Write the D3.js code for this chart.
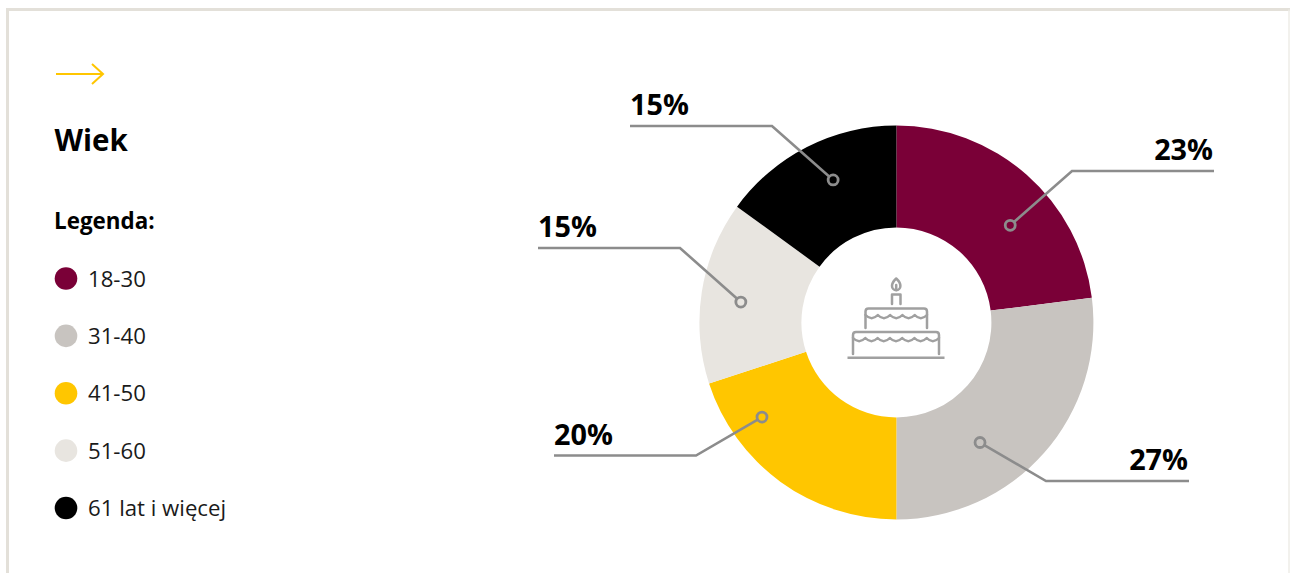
<!DOCTYPE html>
<html lang="pl">
<head>
<meta charset="utf-8">
<script src="https://cdn.jsdelivr.net/npm/d3@7"></script>
<style>
  html, body { margin: 0; padding: 0; background: #fff; overflow: hidden; }
  svg { display: block; font-family: "Open Sans", sans-serif; }
</style>
</head>
<body>
<svg id="chart" width="1290" height="573"></svg>
<script>
// Age structure of respondents
const ageGroups = ["18-30", "31-40", "41-50", "51-60", "61 lat i więcej"];
const shares = [23, 27, 20, 15, 15];
const sliceColors = ["#7a0037", "#c8c4c0", "#ffc600", "#e8e5e0", "#000000"];

// Callout geometry, one entry per slice: anchor dot in polar form around
// the ring centre (degrees clockwise from north, radius), elbow, line end.
const calloutAngles = [49.6, 145, 234.8, 277.5, 336.2];
const calloutRadii = [150, 146.5, 164, 156.5, 155.8];
const calloutElbows = [[1072, 171], [1046, 481], [696, 455.5], [680, 248], [772, 126]];
const calloutEnds = [[1214, 171], [1189, 481], [554, 455.5], [538, 248], [630, 126]];
const calloutBaselineGap = 11;

const svg = d3.select("#chart");
const cx = 896.4, cy = 322.5, outerR = 197, innerR = 95;

// Card frame, open at the bottom
svg.append("path")
  .attr("d", "M7.5 573 V9.5 H1290")
  .attr("fill", "none")
  .attr("stroke", "#e3e0d9")
  .attr("stroke-width", 3);
svg.append("path")
  .attr("d", "M1289 9.5 V573")
  .attr("fill", "none")
  .attr("stroke", "#eeece7")
  .attr("stroke-width", 1.5);

// Decorative arrow above the heading
svg.append("path")
  .attr("d", "M56 74 H103 M92 64 L103 74 L92 84")
  .attr("fill", "none")
  .attr("stroke", "#ffc600")
  .attr("stroke-width", 2);

svg.append("text")
  .attr("x", 54.6).attr("y", 151)
  .attr("font-size", 29.5).attr("font-weight", 700)
  .attr("fill", "#000")
  .text("Wiek");

svg.append("text")
  .attr("x", 54).attr("y", 229)
  .attr("font-size", 22.4).attr("font-weight", 700)
  .attr("fill", "#000")
  .text("Legenda:");

// Legend
const legendY = d3.scalePoint().domain(ageGroups).range([278.5, 508]);
const legend = svg.append("g").selectAll("g").data(ageGroups).join("g")
  .attr("transform", d => `translate(0,${legendY(d)})`);
legend.append("circle")
  .attr("cx", 66).attr("r", 11.3)
  .attr("fill", (d, i) => sliceColors[i]);
legend.append("text")
  .attr("x", 88).attr("y", 8)
  .attr("font-size", 22.2)
  .attr("fill", "#1a1a1a")
  .text(d => d);

// Ring
const pie = d3.pie().sort(null).value(d => d);
const arc = d3.arc().innerRadius(innerR).outerRadius(outerR);
const ring = svg.append("g").attr("transform", `translate(${cx},${cy})`);
ring.selectAll("path").data(pie(shares)).join("path")
  .attr("d", arc)
  .attr("fill", (d, i) => sliceColors[i]);

// Cake pictogram in the hole
const cake = svg.append("g")
  .attr("fill", "none")
  .attr("stroke", "#a0a0a0")
  .attr("stroke-width", 2.5)
  .attr("stroke-linecap", "round")
  .attr("stroke-linejoin", "round");

function scallops(x0, x1, y, count, depth) {
  const step = (x1 - x0) / count;
  let d = `M${x0} ${y}`;
  for (let i = 0; i < count; i++) {
    d += ` q${step / 2} ${depth * 2} ${step} 0`;
  }
  return d;
}

cake.append("path").attr("d", "M847.5 357.8 H944.5").attr("stroke-linecap", "butt");
cake.append("path").attr("d", "M853 354 V335 q0 -3 3 -3 H936 q3 0 3 3 V354");
cake.append("path").attr("d", scallops(853, 939, 338, 7, 3.2));
cake.append("path").attr("d", "M865.5 328 V311.5 q0 -3 3 -3 H924 q3 0 3 3 V328");
cake.append("path").attr("d", scallops(865.5, 927, 315, 5, 3.2));
cake.append("path").attr("d", "M892 304 V294.5 H900.5 V304");
cake.append("path").attr("d", "M896.2 278.5 C893.5 281 892 283.5 892 286 a4.2 4.2 0 0 0 8.4 0 C900.4 283.5 899 281 896.2 278.5 Z");
cake.append("path").attr("d", "M896.2 285 V290");

// Callouts
const calloutPoint = i => {
  const a = (calloutAngles[i] - 90) * Math.PI / 180;
  return [896 + calloutRadii[i] * Math.cos(a), cy + calloutRadii[i] * Math.sin(a)];
};

const line = d3.line();
const callouts = svg.append("g").selectAll("g").data(shares).join("g");
callouts.append("path")
  .attr("d", (d, i) => line([calloutPoint(i), calloutElbows[i], calloutEnds[i]]))
  .attr("fill", "none")
  .attr("stroke", "#8c8c8c")
  .attr("stroke-width", 2.6);
callouts.append("circle")
  .attr("cx", (d, i) => calloutPoint(i)[0])
  .attr("cy", (d, i) => calloutPoint(i)[1])
  .attr("r", 5)
  .attr("fill", (d, i) => sliceColors[i])
  .attr("stroke", "#8c8c8c")
  .attr("stroke-width", 2.8);
callouts.append("text")
  .attr("x", (d, i) => calloutEnds[i][0] + (calloutEnds[i][0] > cx ? -1 : 0))
  .attr("y", (d, i) => calloutEnds[i][1] - calloutBaselineGap)
  .attr("text-anchor", (d, i) => calloutEnds[i][0] > cx ? "end" : "start")
  .attr("font-size", 28.8)
  .attr("font-weight", 700)
  .attr("fill", "#000")
  .text(d => `${d}%`);
</script>
</body>
</html>
